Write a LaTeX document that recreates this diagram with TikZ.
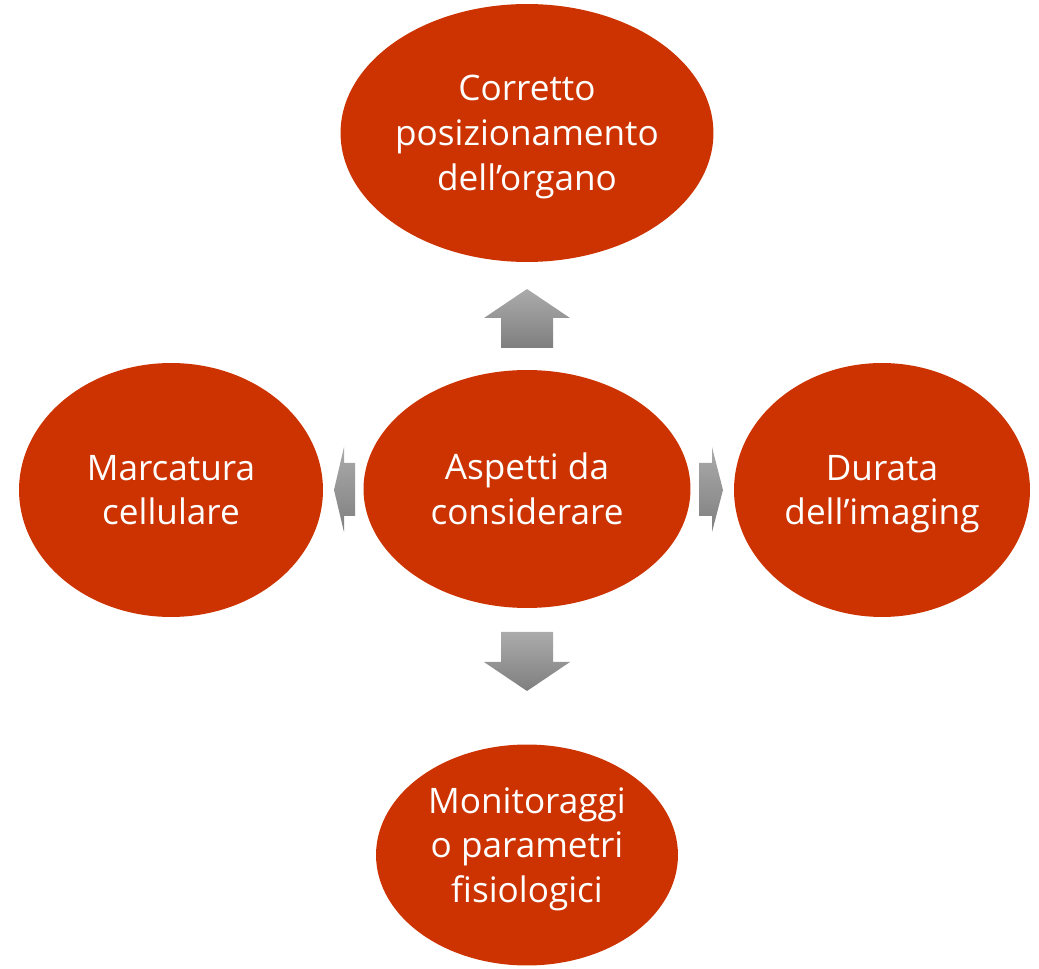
\documentclass[tikz,border=0pt]{standalone}
\usepackage{fontspec}
\setmainfont{Open Sans}
\usepackage{tikz}
\usetikzlibrary{shapes.geometric,positioning}

\definecolor{brick}{HTML}{CC3300}
\definecolor{arrtop}{HTML}{ABABAB}
\definecolor{arrbot}{HTML}{7F7F7F}

\begin{document}
\begin{tikzpicture}[
    x=0.02cm, y=-0.02cm,
    topic/.style={ellipse, fill=brick, inner sep=0pt, align=center, text=white,
                  text depth=0pt, font=\fontsize{20}{25.5}\selectfont},
    blockarr/.style={top color=arrtop, bottom color=arrbot, draw=none}
]
\useasboundingbox (0,0) rectangle (1039,969);

% centre
\node[topic, minimum width=6.54cm, minimum height=4.76cm] (C) at (527,489) {Aspetti da\\considerare};

% the four around it
\node[topic, minimum width=7.32cm, minimum height=5.16cm] (T) at (527,133) {Corretto\\posizionamento\\dell’organo};
\node[topic, minimum width=6.08cm, minimum height=5.08cm] (L) at (171,490) {Marcatura\\cellulare};
\node[topic, minimum width=5.92cm, minimum height=5.08cm] (R) at (882,490) {Durata\\dell’imaging};
\node[topic, minimum width=6.04cm, minimum height=4.42cm, text depth=0.4cm] (B) at (527,855) {Monitoraggi\\o parametri\\fisiologici};

% block arrows (grey, shaded)
\shade[blockarr] (501,348) -- (501,318) -- (484,318) -- (527,289) -- (570,318) -- (553,318) -- (553,348) -- cycle;
\shade[blockarr] (501,632) -- (553,632) -- (553,662) -- (570,662) -- (527,691) -- (484,662) -- (501,662) -- cycle;
\shade[blockarr] (355,463) -- (344,463) -- (344,447) -- (334,490) -- (344,532) -- (344,516) -- (355,516) -- cycle;
\shade[blockarr] (699,463) -- (712,463) -- (712,447) -- (723,490) -- (712,532) -- (712,516) -- (699,516) -- cycle;

\end{tikzpicture}
\end{document}
